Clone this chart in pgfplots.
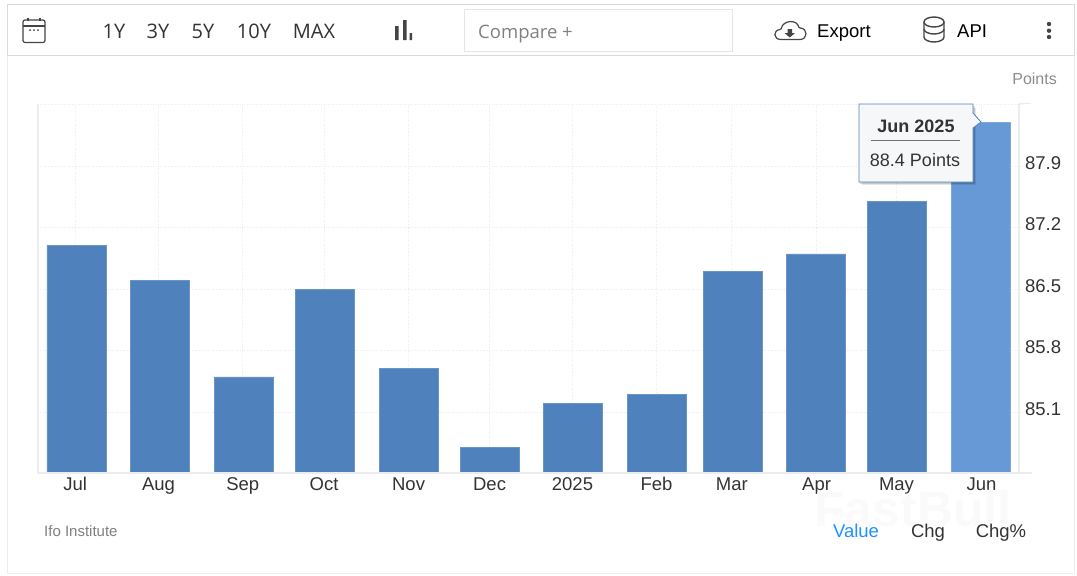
\documentclass[border=0pt]{standalone}
\usepackage{fontspec}
\setmainfont{Liberation Sans}
\newfontfamily\uifont{Open Sans}
\usepackage{pgfplots}
\pgfplotsset{compat=1.18}
\definecolor{barblue}{RGB}{79,129,189}
\definecolor{hoverblue}{RGB}{102,153,214}
\definecolor{txt}{RGB}{51,51,51}
\definecolor{icon}{RGB}{68,68,68}
\definecolor{frameg}{RGB}{218,218,218}
\definecolor{gridg}{RGB}{236,236,236}
\definecolor{tipbg}{RGB}{246,247,249}
\newcommand{\fs}[1]{\fontsize{#1}{#1}\selectfont}
\begin{document}
\begin{tikzpicture}[x=1pt,y=-1pt]
\useasboundingbox (0,0) rectangle (1077,576);
% page frame and toolbar
\draw[gridg,line width=1pt] (7,55) -- (7,573) -- (1074,573) -- (1074,55);
\draw[frameg,line width=1pt] (7,4) rectangle (1074,55);
\draw[frameg!70!white,line width=1pt] (464,9) rectangle (732,51);
% calendar icon
\draw[icon,line width=1.2pt,rounded corners=2pt] (23,20) rectangle (45,42.5);
\draw[icon,line width=1.2pt] (23,26) -- (45,26) (28,17.5) -- (28,21) (40,17.5) -- (40,21);
\fill[icon] (30,30) circle (1pt) (34,30) circle (1pt) (38,30) circle (1pt);
% range buttons
\node[anchor=base,text=txt,font=\uifont\fs{20}] at (114,38) {1Y};
\node[anchor=base,text=txt,font=\uifont\fs{20}] at (158,38) {3Y};
\node[anchor=base,text=txt,font=\uifont\fs{20}] at (203,38) {5Y};
\node[anchor=base,text=txt,font=\uifont\fs{20}] at (254,38) {10Y};
\node[anchor=base,text=txt,font=\uifont\fs{20}] at (314,38) {MAX};
% bars icon
\fill[icon] (395,26) rectangle (398.5,40) (403,20) rectangle (406.5,40) (409.5,33) rectangle (412,40);
\node[anchor=base west,inner sep=0pt,text=black!50,font=\uifont\fs{18.5}] at (478,38) {Compare +};
% cloud icon
\draw[icon,line width=1.2pt,rounded corners=1pt] (782,39.5) .. controls (773,39.5) and (773,30) .. (781,29.5)
  .. controls (783,20) and (797,19) .. (799,28) .. controls (808,28) and (808,39.5) .. (799,39.5) -- cycle;
\fill[icon] (787.5,29) rectangle (792,33) (784.5,33) -- (795,33) -- (789.8,37.5) -- cycle;
\node[anchor=base west,inner sep=0pt,font=\fs{18.5}] at (817,37.5) {Export};
% database icon
\draw[icon,line width=1.4pt] (934,22) ellipse (10 and 5);
\draw[icon,line width=1.4pt] (924,22) -- (924,37) arc[start angle=180,end angle=0,x radius=10,y radius=5] -- (944,22);
\draw[icon,line width=1.4pt] (924,29) arc[start angle=180,end angle=0,x radius=10,y radius=5];
\node[anchor=base west,inner sep=0pt,font=\fs{18.5}] at (957,37.5) {API};
\fill[icon] (1049,24) circle (2.2pt) (1049,30.7) circle (2.2pt) (1049,37) circle (2.2pt);
\node[anchor=base east,inner sep=0pt,text=black!45,font=\fs{16}] at (1057,84) {Points};
% chart: x is days since 1 Jul 2024
\begin{axis}[
    at={(38pt,-473.5pt)},
    anchor=south west,
    scale only axis,
    width=986pt,
    height=369pt,
    xmin=-14.25, xmax=350.93,
    ymin=84.4, ymax=88.6,
    axis line style={draw=none},
    tick style={draw=none},
    ybar,
    bar width=59pt,
    bar shift=0pt,
    xtick={-0.5,30.4,61.6,91.7,123,153,183.7,214.8,242.7,274.1,303.7,335.2},
    xticklabels={Jul,Aug,Sep,Oct,Nov,Dec,2025,Feb,Mar,Apr,May,Jun},
    ytick={85.1,85.8,86.5,87.2,87.9},
    extra y ticks={88.6},
    extra y tick labels={},
    yticklabel pos=right,
    /pgf/number format/assume math mode=true,
    /pgf/number format/fixed,
    /pgf/number format/fixed zerofill,
    /pgf/number format/precision=1,
    xmajorgrids, ymajorgrids,
    grid style={gridg,dotted,line width=0.9pt},
    xticklabel style={font=\fs{18.5},text=txt,anchor=base,yshift=-13pt},
    yticklabel style={font=\fs{18.5},text=txt,anchor=west,xshift=-2.5pt,yshift=3pt},
  ]
  \addplot[fill=barblue,draw=barblue!85!white,line width=0.6pt] coordinates {
    (0,87.0) (31,86.6) (62,85.5) (92,86.5) (123,85.6) (153,84.7)
    (184,85.2) (215,85.3) (243,86.7) (274,86.9) (304,87.5)};
  \addplot[fill=hoverblue,draw=hoverblue!85!white,line width=0.6pt] coordinates {(335,88.4)};
\end{axis}
% axis lines
\draw[gridg,line width=1.2pt] (38,104) -- (38,473) -- (1032,473);
\draw[gridg,line width=2pt] (1019,103.5) -- (1019,473);
\draw[gridg,line width=1pt] (1019,103.5) -- (1031,103.5);
% tooltip
\fill[black,opacity=0.10] (862,108) rectangle (976,185);
\fill[black,opacity=0.14] (860,106) rectangle (975,184);
\path[fill=tipbg,draw=barblue,line width=0.8pt]
  (859,182) -- (859,104) -- (973,104) -- (973,113) -- (981,122) -- (973,128) -- (973,182) -- cycle;
\node[text=txt,font=\bfseries\fs{18}] at (916,126) {Jun 2025};
\draw[black!55,line width=0.8pt] (871,140.5) -- (960,140.5);
\node[text=txt,font=\fs{18}] at (915,160) {88.4 Points};
% footer
\node[text=black!2,font=\bfseries\fs{50}] at (913,509) {FastBull};
\node[anchor=base west,inner sep=0pt,text=black!50,font=\fs{15}] at (44,536) {Ifo Institute};
\node[anchor=base,text={rgb,255:red,30;green,144;blue,255},font=\fs{18.5}] at (856,537) {Value};
\node[anchor=base,text=txt,font=\fs{18.5}] at (928,537) {Chg};
\node[anchor=base,text=txt,font=\fs{18.5}] at (1001,537) {Chg\%};
\end{tikzpicture}
\end{document}
